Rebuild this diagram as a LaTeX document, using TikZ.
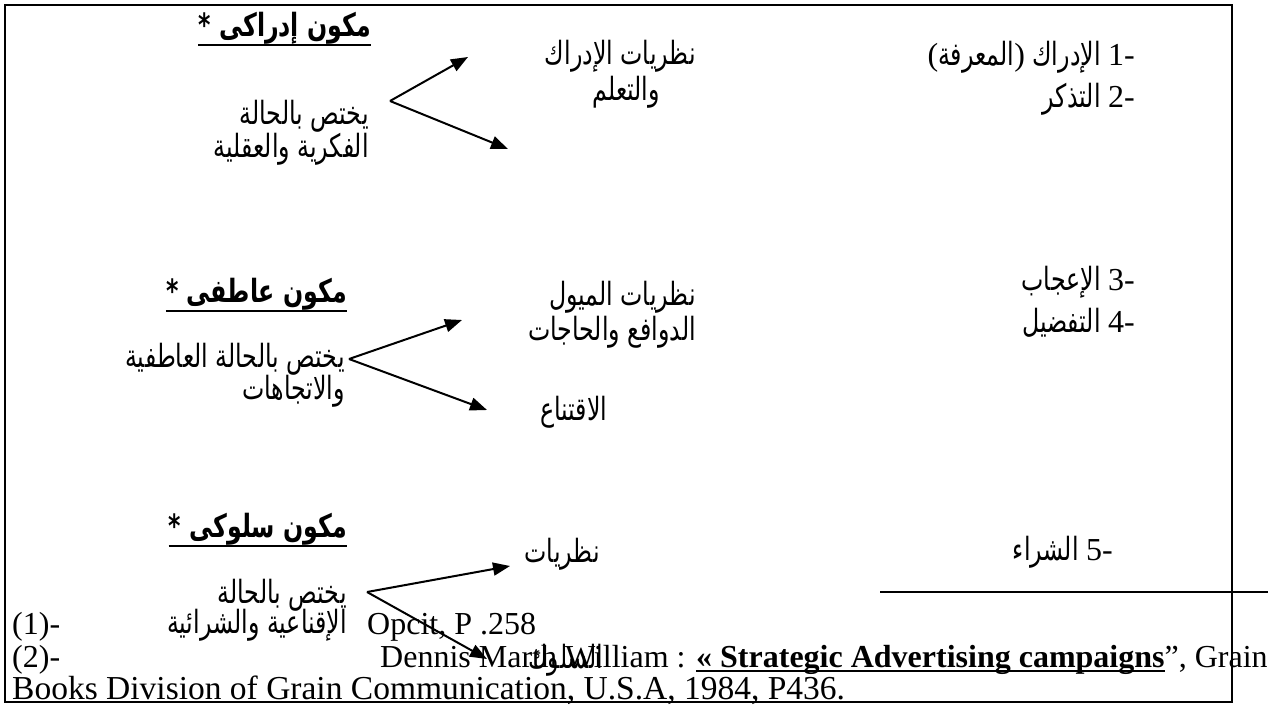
\documentclass[tikz,border=0pt]{standalone}
\usepackage{fontspec}
\setmainfont{Liberation Serif}
\newfontfamily\arabicfont[Script=Arabic,FakeStretch=0.74]{DejaVu Sans}
\TeXXeTstate=1
\usetikzlibrary{arrows.meta}
% Latin glyphs (digits, dashes, brackets) inside Arabic lines
\newcommand\lat[1]{{\rmfamily\fontsize{32}{36}\selectfont #1}}
% bold title with a heavy underline
\newcommand\thul[1]{\setbox0=\hbox{#1}\rlap{\rule[-5pt]{\wd0}{2.5pt}}\box0}
\begin{document}
\begin{tikzpicture}[x=1pt,y=-1pt,
  ar/.style={font=\arabicfont\fontsize{32}{36}\selectfont, inner sep=0pt, anchor=base east},
  arh/.style={font=\arabicfont\bfseries\fontsize{32}{36}\selectfont, inner sep=0pt, anchor=base east},
  lt/.style={font=\fontsize{32}{36}\selectfont, inner sep=0pt, anchor=base west},
  link/.style={line width=2pt, -{Triangle[length=17pt,width=13pt]}},
  uline/.style={line width=2.5pt}]
\useasboundingbox (0,0) rectangle (1274,704);
\fill[white] (0,0) rectangle (1274,704);
\draw[line width=1.5pt] (5,5) rectangle (1232,702);

% ---- cognitive component
\node[arh] (h1) at (371,36) {* \beginR مكون إدراكى\endR};
\draw[uline] (h1.west |- 0,45) -- (h1.east |- 0,45);
\node[ar] (t1a) at (369,124) {\beginR يختص بالحالة\endR};
\node[ar] (t1b) at (369,157) {\beginR الفكرية والعقلية\endR};
\node[ar] (m1a) at (696,64) {\beginR نظريات الإدراك\endR};
\node[ar] (m1b) at (660,100) {\beginR والتعلم\endR};
\node[ar] (r1) at (1135,65) {\beginR\lat{1}\lat{-} الإدراك \beginL\lat{(}المعرفة\lat{)}\endL\endR};
\node[ar] (r2) at (1135,107) {\beginR\lat{2}\lat{-} التذكر\endR};
\coordinate (v1) at (390,101);
\coordinate (p1a) at (468,57);
\coordinate (p1b) at (508,149);
\draw[link] (v1) -- (p1a);
\draw[link] (v1) -- (p1b);

% ---- affective component
\node[arh] (h2) at (347,302) {* \beginR مكون عاطفى\endR};
\draw[uline] (h2.west |- 0,311) -- (h2.east |- 0,311);
\node[ar] (t2a) at (345,367) {\beginR يختص بالحالة العاطفية\endR};
\node[ar] (t2b) at (345,399) {\beginR والاتجاهات\endR};
\node[ar] (m2a) at (696,305) {\beginR نظريات الميول\endR};
\node[ar] (m2b) at (696,340) {\beginR الدوافع والحاجات\endR};
\node[ar,anchor=base west] (m2c) at (540,420) {\beginR الاقتناع\endR};
\node[ar] (r3) at (1135,290) {\beginR\lat{3}\lat{-} الإعجاب\endR};
\node[ar] (r4) at (1135,332) {\beginR\lat{4}\lat{-} التفضيل\endR};
\coordinate (v2) at (349,359);
\coordinate (p2a) at (462,320);
\coordinate (p2b) at (487,410);
\draw[link] (v2) -- (p2a);
\draw[link] (v2) -- (p2b);

% ---- behavioural component
\node[arh] (h3) at (347,537) {* \beginR مكون سلوكى\endR};
\draw[uline] (h3.west |- 0,546) -- (h3.east |- 0,546);
\node[ar] (t3a) at (347,603) {\beginR يختص بالحالة\endR};
\node[ar] (t3b) at (347,633) {\beginR الإقناعية والشرائية\endR};
\node[ar] (m3a) at (600,562) {\beginR نظريات\endR};
\node[ar] (m3b) at (603,668) {\beginR السلوك\endR};
\node[ar] (r5) at (1113,560) {\beginR\lat{5}\lat{-} الشراء\endR};
\coordinate (v3) at (367,592);
\coordinate (p3a) at (510,566);
\coordinate (p3b) at (487,659);
\draw[link] (v3) -- (p3a);
\draw[link] (v3) -- (p3b);

% ---- footnotes
\coordinate (fl) at (880,592);
\coordinate (fr) at (1268,592);
\draw[line width=1.5pt] (fl) -- (fr);
\node[lt] (f1) at (12,634) {(1)-};
\node[lt] (f1t) at (367,634) {Opcit, P .258};
\node[lt] (f2) at (12,667) {(2)-};
\node[lt] (f2t) at (380,667) {Dennis Marth William : \thul{\bfseries « Strategic Advertising campaigns}”, Grain};
\node[lt,font=\fontsize{33.5}{38}\selectfont] (f3) at (12,699) {Books Division of Grain Communication, U.S.A, 1984, P436.};
\end{tikzpicture}
\end{document}
